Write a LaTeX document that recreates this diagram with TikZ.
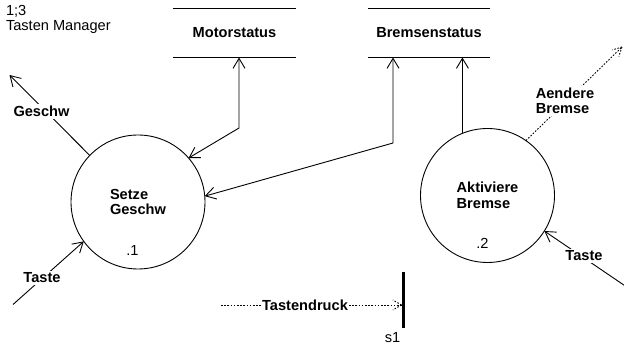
\documentclass[tikz,border=0pt]{standalone}
\usepackage{fontspec}
\setmainfont{Liberation Sans}
\usetikzlibrary{arrows.meta,calc}
\begin{document}
\begin{tikzpicture}[x=1pt,y=-1pt,
  font=\fontsize{14.6}{15.5}\selectfont,
  every node/.style={inner sep=0pt, outer sep=0pt},
  barb/.tip={Straight Barb[length=10pt,width=12pt]},
  proc/.style={circle, draw, line width=0.9pt, minimum size=134pt, align=left, font=\fontsize{14.6}{15.5}\selectfont\bfseries},
  store/.style={minimum width=123pt, minimum height=49pt, font=\fontsize{14.6}{15.5}\selectfont\bfseries},
  storeline/.style={line width=0.9pt},
  flow/.style={line width=0.9pt, -barb},
  biflow/.style={line width=0.9pt, barb-barb},
  sig/.style={line width=0.9pt, dash pattern=on 1.6pt off 1.6pt},
  tag/.style={fill=white, inner sep=2pt, font=\fontsize{14.6}{15.5}\selectfont\bfseries},
]
\useasboundingbox (0,0) rectangle (624,347);

% diagram title
\node[anchor=north west, align=left] (title) at (6,5) {1;3\\Tasten Manager};

% processes
\node[proc] (c1) at (138,202) {Setze\\Geschw};
\node[proc] (c2) at (487.5,195.5) {Aktiviere\\Bremse};
\node[anchor=base] (n1) at (132.5,256) {.1};
\node[anchor=base] (n2) at (482.5,249) {.2};

% data stores
\node[store] (ms) at (234.5,33) {Motorstatus};
\draw[storeline] (ms.north west) -- (ms.north east) (ms.south west) -- (ms.south east);
\node[store, minimum width=122pt] (bs) at (429,33) {Bremsenstatus};
\draw[storeline] (bs.north west) -- (bs.north east) (bs.south west) -- (bs.south east);

% store access
\coordinate (mb) at (239,128);
\draw[biflow] (ms.south -| mb) -- (mb) -- (c1.41);
\coordinate (bb) at (393,143);
\draw[biflow] (bs.south -| bb) -- (bb) -- (c1.5);
\draw[flow] (c2.112) -- (c2.112 |- bs.south);

% external flows of process 1
\coordinate (gout) at (9.5,75);
\draw[flow] (c1.136) -- (gout);
\node[tag, anchor=base] (lg) at (41.5,117) {Geschw};
\coordinate (tin1) at (13,304.5);
\draw[flow] (tin1) -- (c1.216);
\node[tag, anchor=base] (lt1) at (42,282.7) {Taste};

% external flows of process 2
\coordinate (tin2) at (626,286.5);
\draw[flow] (tin2) -- (c2.-32.5);
\node[tag, anchor=base] (lt2) at (584,261) {Taste};
\coordinate (aout) at (622,47);
\draw[sig] (c2.55) -- (aout);
\draw[sig] (aout) -- ($(aout)!10pt!27:(c2.55)$);
\draw[sig] (aout) -- ($(aout)!10pt!-27:(c2.55)$);
\node[tag, align=left, inner sep=2pt] (la) at (565,101) {Aendere\\Bremse};

% signal into the bar
\node[fill, minimum width=3pt, minimum height=56pt] (bar) at (403,300) {};
\node[anchor=base] (s1) at (392.5,342) {s1};
\coordinate (ts) at (221,305);
\draw[sig] (ts) -- (ts -| bar.west) coordinate (tt);
\draw[sig] (tt) -- ($(tt)!10pt!30:(ts)$);
\draw[sig] (tt) -- ($(tt)!10pt!-30:(ts)$);
\node[tag, anchor=base, inner sep=1pt] (ltd) at (305,311) {Tastendruck};
\end{tikzpicture}
\end{document}
